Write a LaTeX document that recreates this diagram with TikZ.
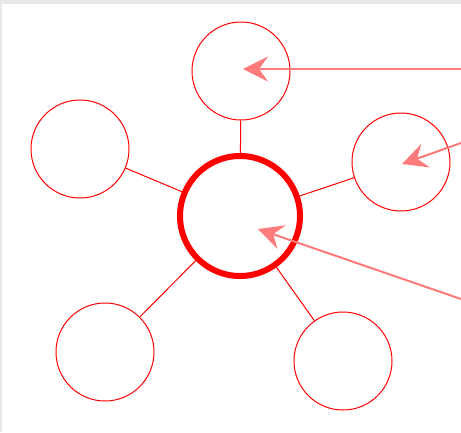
\documentclass[tikz,border=0pt]{standalone}
\usetikzlibrary{arrows.meta}
\definecolor{pinkarrow}{HTML}{FF7A7A}
\definecolor{bordergray}{HTML}{E8E8E8}
\begin{document}
\begin{tikzpicture}[x=1pt,y=-1pt,
  sat/.style={circle,draw=red,line width=1pt,minimum size=98pt,inner sep=0pt},
  hub/.style={circle,draw=red,line width=6pt,minimum size=120pt,inner sep=0pt},
  spoke/.style={draw=red,line width=1pt},
  pointer/.style={draw=pinkarrow,line width=2pt,-{Stealth[length=25pt,width=25pt,inset=9pt]}}]
\fill[bordergray] (0,0) rectangle (461,432);
\fill[white] (2,4) rectangle (461,432);
\useasboundingbox (0,0) rectangle (461,432);
\node[hub] (c) at (240,216) {};
\node[sat] (top) at (241,71) {};
\node[sat] (left) at (80,149) {};
\node[sat] (right) at (401,162) {};
\node[sat] (bl) at (105,352) {};
\node[sat] (br) at (343,361) {};
\foreach \n in {top,left,right,bl,br} \draw[spoke] (c) -- (\n);
\coordinate (a1) at (461,69);
\coordinate (t1) at (243,69);
\coordinate (a2) at (461,143);
\coordinate (t2) at (402,164);
\coordinate (a3) at (461,299);
\coordinate (t3) at (258,229);
\draw[pointer] (a1) -- (t1);
\draw[pointer] (a2) -- (t2);
\draw[pointer] (a3) -- (t3);
\end{tikzpicture}
\end{document}
